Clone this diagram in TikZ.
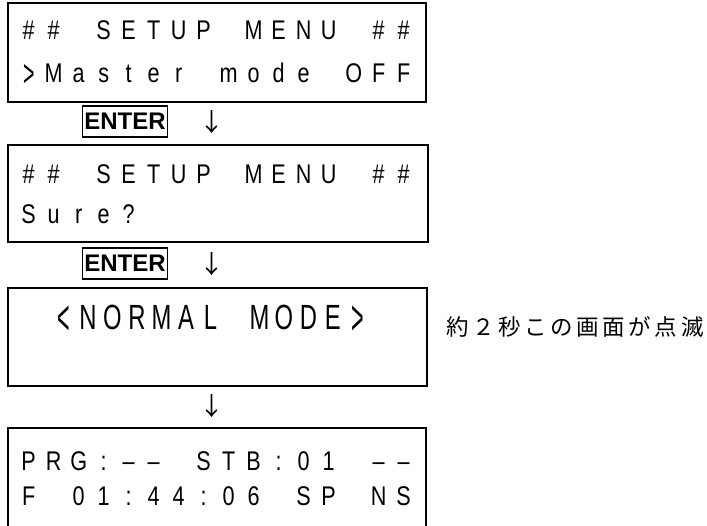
\documentclass[tikz,border=0pt]{standalone}
\usepackage{fontspec}
\usepackage{graphicx}
\setmainfont{Liberation Sans}
\newfontfamily\lcdfont{Liberation Sans}[FakeStretch=0.8]
\newfontfamily\lcdtall{Liberation Sans}[FakeStretch=0.68]
\newfontfamily\jpfont{Noto Sans CJK JP}[LetterSpace=16]
\newfontfamily\arrfont{Noto Sans CJK JP}
\newlength\lcdcell
\setlength\lcdcell{25pt}
\def\lcd#1{\lcdloop#1\relax}
\def\lcdloop#1{\ifx#1\relax\else\makebox[\lcdcell]{#1}\expandafter\lcdloop\fi}
\newcommand\lcdGt{\raisebox{-0.16em}{\scalebox{0.9}[1.4]{>}}}
\newcommand\lcdLt{\raisebox{-0.16em}{\scalebox{0.9}[1.4]{<}}}
\begin{document}
\begin{tikzpicture}[x=1pt,y=-1pt,
  lcdbox/.style={draw=black, line width=1.3pt, inner sep=0pt},
  lcdline/.style={anchor=base west, inner sep=0pt, font=\lcdfont\fontsize{27}{27}\selectfont},
  tallline/.style={anchor=base west, inner sep=0pt, font=\lcdtall\fontsize{35}{35}\selectfont},
  enterkey/.style={draw=black, line width=1.5pt, inner sep=1pt, minimum height=31pt, minimum width=85pt, font=\bfseries\fontsize{24}{24}\selectfont},
  downarrow/.style={inner sep=0pt, font=\arrfont\fontsize{25}{25}\selectfont},
  note/.style={anchor=west, inner sep=0pt, font=\jpfont\fontsize{22.5}{22.5}\selectfont}]
\useasboundingbox (0,0) rectangle (707,525);
% box 1
\node[lcdbox, minimum width=418pt, minimum height=99pt] (b1) at (217,52.5) {};
\node[lcdline] (b1l1) at (16,39) {\lcd{\#\#~SETUP~MENU~\#\#}};
\node[lcdline] (b1l2) at (16,82) {\lcd{\lcdGt Master~mode~OFF}};
\node[enterkey] (e1) at (125,121.5) {ENTER};
\node[downarrow] (a1) at (212,122) {↓};
% box 2
\node[lcdbox, line width=2.5pt, minimum width=420pt, minimum height=97pt] (b2) at (218,193.5) {};
\node[lcdline] (b2l1) at (16,183) {\lcd{\#\#~SETUP~MENU~\#\#}};
\node[lcdline] (b2l2) at (16,223) {\lcd{Sure?}};
\node[enterkey] (e2) at (125,263.5) {ENTER};
\node[downarrow] (a2) at (212,264) {↓};
% box 3
\node[lcdbox, minimum width=419pt, minimum height=98pt] (b3) at (217.5,337) {};
\node[tallline] (b3l1) at (51,329) {\setlength\lcdcell{24.5pt}\lcd{\lcdLt NORMAL~MODE\lcdGt}};
\node[note] (n3) at (446,327) {約２秒この画面が点滅};
\node[downarrow] (a3) at (212,406) {↓};
% box 4 (continues below the picture)
\coordinate (b4bl) at (8,540);
\coordinate (b4tl) at (8,428);
\coordinate (b4tr) at (426,428);
\coordinate (b4br) at (426,540);
\draw[line width=1.3pt] (b4bl) -- (b4tl) -- (b4tr) -- (b4br);
\node[lcdline] (b4l1) at (16,470) {\lcd{PRG:––~STB:01~––}};
\node[lcdline] (b4l2) at (16,505) {\lcd{F~01:44:06~SP~NS}};
\end{tikzpicture}
\end{document}
